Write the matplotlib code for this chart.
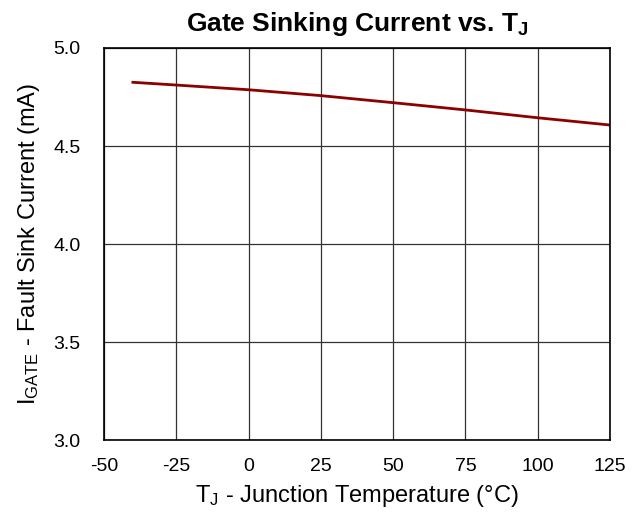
import matplotlib
matplotlib.use("Agg")
import matplotlib.pyplot as plt
import numpy as np

plt.rcParams['font.family'] = ['Liberation Sans', 'DejaVu Sans']
plt.rcParams['mathtext.default'] = 'regular'
plt.rcParams['axes.unicode_minus'] = False

# Data
temp = [-40, -25, 0, 25, 50, 75, 100, 125]
sink_current = [4.825, 4.811, 4.787, 4.757, 4.721, 4.684, 4.644, 4.607]

x_ticks = [-50, -25, 0, 25, 50, 75, 100, 125]
y_ticks = [3.0, 3.5, 4.0, 4.5, 5.0]

fig = plt.figure(figsize=(6.43, 5.15), dpi=100)
ax = fig.add_axes([0.1617, 0.1456, 0.787, 0.7612])

ax.plot(temp, sink_current, color='#8B0000', lw=2)

ax.set_xlim(-50, 125)
ax.set_ylim(3.0, 5.0)
ax.set_xticks(x_ticks)
ax.set_yticks(y_ticks)
ax.set_yticklabels(['%.1f' % v for v in y_ticks])
ax.grid(True, color='#333333', lw=0.9)
ax.tick_params(length=0, labelsize=14)
ax.tick_params(axis='x', pad=13)
ax.tick_params(axis='y', pad=17)
for s in ax.spines.values():
    s.set_color('black')
    s.set_linewidth(1.2)

ax.set_title('Gate Sinking Current vs. T$_J$', fontsize=19, fontweight='bold', pad=12)
ax.set_xlabel('T$_J$ - Junction Temperature (°C)', fontsize=17, labelpad=6)
ax.set_ylabel('I$_{GATE}$ - Fault Sink Current (mA)', fontsize=17, labelpad=8)

fig.savefig('out.png', dpi=100)
